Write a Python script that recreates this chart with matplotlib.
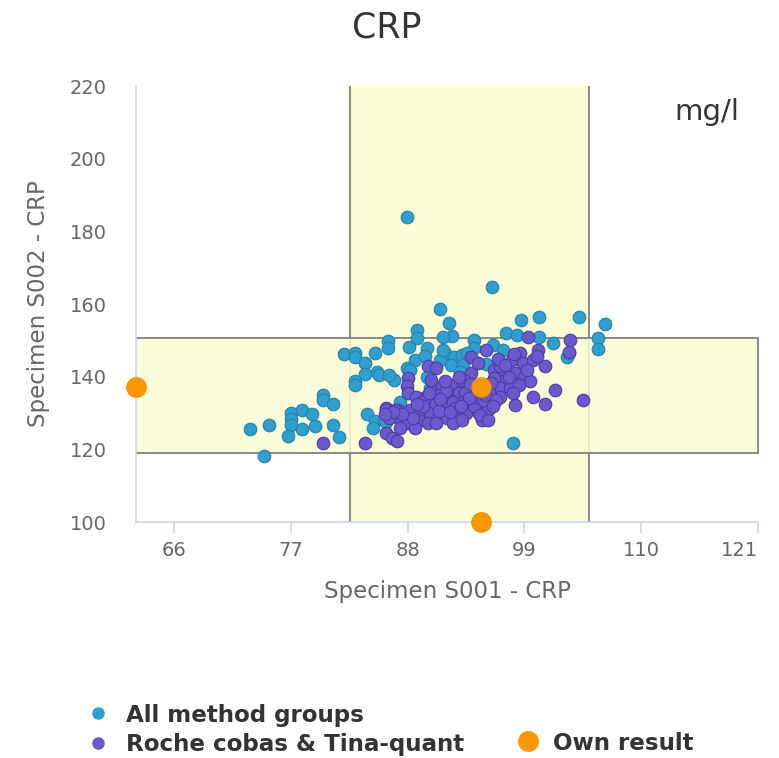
import numpy as np
import matplotlib
matplotlib.use("Agg")
import matplotlib.pyplot as plt
from matplotlib.lines import Line2D

# All method groups (S001, S002)
all_x = [87.9, 82.0, 83.0, 83.0, 84.0, 84.9, 86.1, 86.1, 84.0, 85.1, 85.3, 83.0, 83.0,
         86.7, 80.0, 80.0, 81.0, 77.0, 78.0, 79.0, 77.0, 73.1, 74.9, 77.0, 78.0, 79.3,
         81.0, 76.7, 81.5, 74.5, 84.2, 84.9, 84.7, 85.8, 91.0, 91.9, 92.2, 88.9, 88.9,
         88.1, 89.8, 91.3, 91.5, 94.2, 94.2, 92.4, 93.1, 88.7, 87.9, 89.8, 91.0, 92.1,
         93.2, 90.1, 89.0, 86.0, 86.2, 91.3, 93.6, 98.7, 100.4, 104.1, 106.6, 97.3, 98.3,
         100.4, 101.7, 105.9, 105.9, 103.0, 96.0, 97.0, 97.9, 95.9, 103.2, 88.2, 90.6,
         89.6, 92.9, 95.4, 87.3]
all_y = [184.0, 146.2, 146.5, 145.5, 143.7, 146.6, 149.7, 147.8, 140.7, 141.4, 140.5, 138.7,
         137.7, 139.1, 135.0, 133.6, 132.5, 130.0, 130.9, 129.8, 128.3, 125.7, 126.7, 126.7,
         125.7, 126.5, 126.7, 123.7, 123.5, 118.3, 129.8, 127.9, 125.8, 128.1, 158.7, 154.7,
         151.2, 152.9, 150.6, 148.3, 147.8, 151.0, 146.5, 150.1, 147.8, 145.5, 146.0, 144.6,
         142.3, 140.0, 144.6, 143.2, 143.2, 136.8, 132.7, 127.6, 140.5, 147.4, 146.5, 155.6,
         156.5, 156.5, 154.5, 152.0, 151.5, 151.0, 149.2, 150.6, 147.6, 145.5, 148.7, 147.4,
         121.7, 164.6, 146.5, 141.8, 134.0, 145.8, 141.2, 143.5, 133.0]

# Roche cobas & Tina-quant
roche_x = [80.0, 84.0, 88.0, 87.9, 89.9, 90.7, 94.0, 95.4, 94.0, 90.4, 91.2, 92.1, 93.1,
           92.8, 93.4, 91.8, 91.0, 90.4, 91.2, 92.3, 93.2, 94.0, 94.6, 93.5, 92.6, 91.7,
           90.6, 89.8, 89.0, 89.1, 89.9, 90.7, 88.2, 87.1, 86.0, 87.0, 86.2, 87.9, 88.7,
           86.0, 86.5, 87.0, 92.3, 93.1, 95.0, 99.3, 103.3, 103.2, 98.6, 100.3, 97.8, 98.9,
           99.8, 100.9, 96.1, 97.0, 98.1, 99.0, 99.5, 97.0, 96.1, 96.7, 97.6, 95.7, 96.7,
           99.8, 100.9, 101.9, 98.1, 95.6, 94.2, 94.8, 95.6, 104.5, 96.7, 94.3, 95.1, 93.3,
           86.0, 86.8, 88.0, 89.5,
           88.8, 89.5, 90.0, 91.6, 92.5, 93.8, 95.3, 90.9, 89.4, 88.5, 87.5, 86.6, 92.0,
           93.0, 96.3, 97.5, 98.5, 97.9, 96.0, 91.5, 92.8, 90.2, 94.6, 98.0, 96.5, 88.9,
           91.0, 93.9, 95.8, 97.2, 99.2, 100.2, 87.3, 85.9]
roche_y = [121.7, 121.7, 139.6, 137.3, 142.8, 142.3, 145.5, 147.4, 141.0, 136.8, 137.3,
           137.7, 138.7, 135.5, 135.5, 134.1, 135.0, 132.2, 131.8, 133.1, 133.1, 132.7,
           130.4, 130.0, 129.0, 128.6, 129.5, 130.4, 129.5, 128.1, 127.2, 127.2, 130.9,
           130.9, 131.3, 129.0, 128.6, 127.2, 125.8, 124.5, 123.1, 122.2, 127.2, 128.1,
           128.1, 151.0, 150.1, 146.9, 146.5, 147.4, 144.6, 143.7, 144.6, 142.8, 141.9,
           141.9, 141.0, 140.0, 138.7, 138.7, 139.6, 136.8, 136.8, 136.4, 134.5, 134.4,
           132.5, 136.4, 132.2, 130.9, 131.8, 129.5, 128.1, 133.6, 142.8, 134.5, 133.6,
           139.0, 130.9, 130.9, 135.5, 134.0,
           134.5, 133.2, 135.5, 136.0, 131.5, 134.2, 135.0, 130.5, 131.8, 128.5, 129.8,
           130.2, 130.2, 131.8, 133.5, 140.0, 137.8, 135.5, 131.8, 138.8, 139.8, 139.0,
           143.8, 146.2, 145.0, 132.5, 133.8, 137.9, 138.2, 143.2, 141.8, 145.6, 126.0,
           129.8]

own_x = 94.9
own_y = 137.2

# acceptance ranges
x_range = (82.55, 105.05)
y_range = (119.0, 150.7)

x_min, x_max = 62.4, 121
y_min, y_max = 100, 220
x_ticks = [66, 77, 88, 99, 110, 121]
y_ticks = [100, 120, 140, 160, 180, 200, 220]

blue = "#2f9fcf"
purple = "#6a5acd"
orange = "#ff9800"
band = "#fbfdd4"
axis_col = "#ccd6eb"

fig = plt.figure(figsize=(7.79, 7.58), dpi=100)
ax = fig.add_axes([136 / 779, 1 - 522 / 758, 622 / 779, 436 / 758])

# bands
ax.axvspan(x_range[0], x_range[1], color=band, lw=0, zorder=0)
ax.axvline(x_range[0], color="#808080", lw=1.3, zorder=0.5)
ax.axvline(x_range[1], color="#808080", lw=1.3, zorder=0.5)
ax.axhspan(y_range[0], y_range[1], color=band, alpha=0.85, lw=0, zorder=1)
ax.axhline(y_range[0], color="#808080", lw=1.3, zorder=1.5)
ax.axhline(y_range[1], color="#808080", lw=1.3, zorder=1.5)
ax.plot([x_max, x_max], y_range, color="#808080", lw=1.3, zorder=1.5, clip_on=False)

ax.scatter(all_x, all_y, s=82, color=blue, edgecolors="#2780a8", linewidths=0.8, zorder=3)
ax.scatter(roche_x, roche_y, s=82, color=purple, edgecolors="#4a3da3", linewidths=0.8, zorder=4)
own = dict(s=200, color=orange, edgecolors="#e58900", linewidths=0.6, zorder=6, clip_on=False)
ax.scatter([own_x], [own_y], **own)
ax.scatter([x_min], [own_y], **own)
ax.scatter([own_x], [y_min], **own)

ax.set_xlim(x_min, x_max)
ax.set_ylim(y_min, y_max)
ax.set_xticks(x_ticks)
ax.set_yticks(y_ticks)
for s in ["top", "right"]:
    ax.spines[s].set_visible(False)
for s in ["left", "bottom"]:
    ax.spines[s].set_color(axis_col)
    ax.spines[s].set_linewidth(1.2)
ax.tick_params(axis="x", colors=axis_col, length=8, width=1.2, labelcolor="#666666",
               labelsize=14, pad=6)
ax.tick_params(axis="y", length=0, labelcolor="#666666", labelsize=14, pad=21)
ax.get_xticklabels()[-1].set_ha("right")

ax.set_xlabel("Specimen S001 - CRP", fontsize=16.5, color="#666666", labelpad=14)
ax.set_ylabel("Specimen S002 - CRP", fontsize=16.5, color="#666666", labelpad=14)
ax.text(0.97, 0.94, "mg/l", transform=ax.transAxes, ha="right", va="center",
        fontsize=21, color="#333333")

fig.text(0.497, 1 - 28 / 758, "CRP", ha="center", va="center", fontsize=25, color="#333333")

# legend
h1 = Line2D([], [], marker="o", ls="", color=blue, markersize=8)
h2 = Line2D([], [], marker="o", ls="", color=purple, markersize=8)
h3 = Line2D([], [], marker="o", ls="", color=orange, markersize=14)
fig.legend([h1, h2], ["All method groups", "Roche cobas & Tina-quant"],
           loc="upper left", bbox_to_anchor=(75 / 779, 1 - 692 / 758), frameon=False,
           prop={"weight": "bold", "size": 16.6}, handlelength=1, handletextpad=0.7,
           borderpad=0, labelspacing=0.3, labelcolor="#333333")
fig.legend([h3], ["Own result"], loc="upper left", bbox_to_anchor=(505 / 779, 1 - 720 / 758),
           frameon=False, prop={"weight": "bold", "size": 16.6}, handlelength=1,
           handletextpad=0.6, borderpad=0, labelcolor="#333333")

fig.savefig("out.png", dpi=100)
